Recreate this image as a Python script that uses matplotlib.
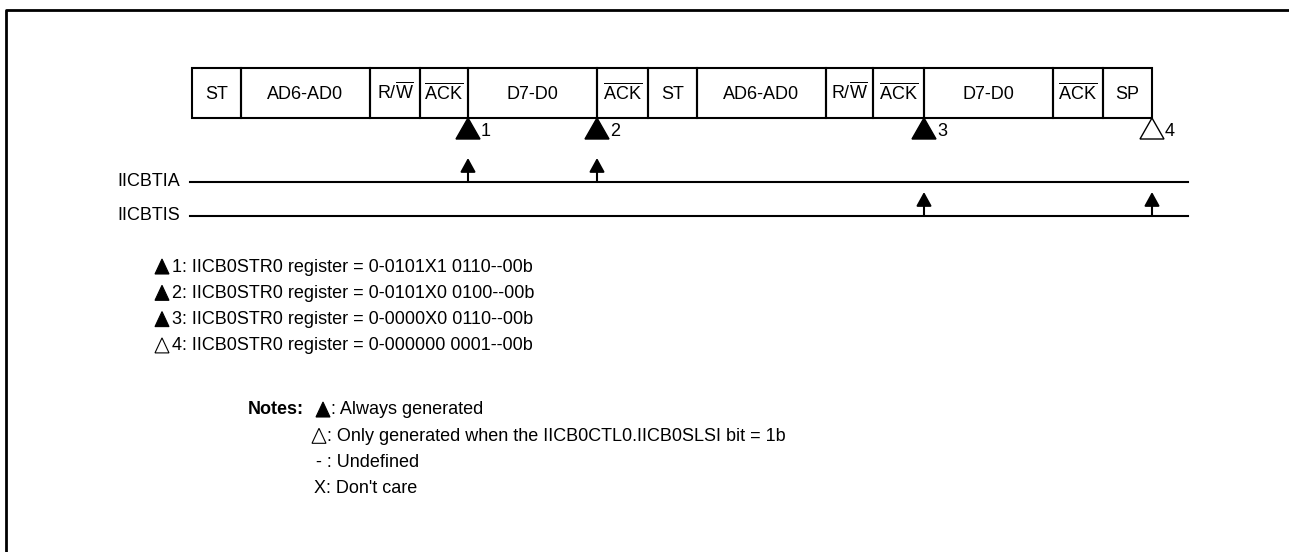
import matplotlib.pyplot as plt
from matplotlib.patches import Rectangle, Polygon

plt.rcParams['font.family'] = ['Liberation Sans', 'DejaVu Sans']
plt.rcParams['mathtext.fontset'] = 'custom'
plt.rcParams['mathtext.rm'] = 'Liberation Sans'
plt.rcParams['mathtext.it'] = 'Liberation Sans:italic'

# frame fields (left to right) and their widths in pixels
fields = ['ST', 'AD6-AD0', r'R/$\overline{\mathrm{W}}$', r'$\overline{\mathrm{ACK}}$', 'D7-D0',
          r'$\overline{\mathrm{ACK}}$', 'ST', 'AD6-AD0', r'R/$\overline{\mathrm{W}}$',
          r'$\overline{\mathrm{ACK}}$', 'D7-D0', r'$\overline{\mathrm{ACK}}$', 'SP']
field_widths = [49, 129, 50, 48, 129, 51, 49, 129, 47, 51, 129, 50, 49]

# interrupt events: field after which they occur, number, always generated?, signal
event_after = [3, 4, 9, 12]
event_nums = ['1', '2', '3', '4']
event_filled = [True, True, True, False]
event_signal = ['IICBTIA', 'IICBTIA', 'IICBTIS', 'IICBTIS']

signals = ['IICBTIA', 'IICBTIS']

reg_values = ['0-0101X1 0110--00b', '0-0101X0 0100--00b',
              '0-0000X0 0110--00b', '0-000000 0001--00b']

notes_marks = ['filled', 'open', '-', 'X']
notes_text = [': Always generated',
              ': Only generated when the IICB0CTL0.IICB0SLSI bit = 1b',
              ' : Undefined',
              ": Don't care"]

FS = 13
LW = 1.5

fig = plt.figure(figsize=(12.89, 5.52), dpi=100)
ax = fig.add_axes([0, 0, 1, 1])
ax.set_xlim(0, 1289)
ax.set_ylim(552, 0)
ax.axis('off')

# outer frame (left and top edges only visible)
ax.plot([6, 6, 1289], [552, 10, 10], color='black', lw=2.0, solid_capstyle='projecting')

# frame boxes
x0 = 192
box_top, box_bot = 68, 118
edges = [x0]
for w in field_widths:
    edges.append(edges[-1] + w)
for i, name in enumerate(fields):
    ax.add_patch(Rectangle((edges[i], box_top), field_widths[i], box_bot - box_top,
                           fill=False, ec='black', lw=LW))
    ax.text(edges[i] + field_widths[i] / 2, 99, name,
            ha='center', va='baseline', fontsize=FS)

# signal lines
sig_y = {'IICBTIA': 182, 'IICBTIS': 216}
for s in signals:
    ax.plot([190, 1188], [sig_y[s], sig_y[s]], color='black', lw=LW)
    ax.text(180, sig_y[s], s, ha='right', va='center', fontsize=FS)


def triangle(x, y_top, w, h, filled, lw=1.0):
    pts = [(x, y_top), (x - w / 2, y_top + h), (x + w / 2, y_top + h)]
    ax.add_patch(Polygon(pts, closed=True, fc='black' if filled else 'white',
                         ec='black', lw=lw, joinstyle='miter'))


# event triangles and arrows
for idx, num, filled, sig in zip(event_after, event_nums, event_filled, event_signal):
    ex = edges[idx + 1]
    triangle(ex, box_bot, 24, 21, filled, lw=1.0)
    ax.text(ex + 13, box_bot + 14, num, ha='left', va='center', fontsize=FS)
    ly = sig_y[sig]
    ax.annotate('', xy=(ex, ly - 24), xytext=(ex, ly),
                arrowprops=dict(arrowstyle='-|>,head_length=0.6,head_width=0.33',
                                mutation_scale=14, lw=LW, color='black',
                                shrinkA=0, shrinkB=0))

# register value legend
for k, (num, filled, val) in enumerate(zip(event_nums, event_filled, reg_values)):
    y = 267 + k * 26.3
    triangle(162, y - 8, 14, 15, filled, lw=0.8)
    ax.text(172, y, f'{num}: IICB0STR0 register = {val}', ha='left', va='center', fontsize=FS)

# notes
ax.text(248, 410, 'Notes:', ha='left', va='center', fontsize=FS, fontweight='bold')
for k, (mark, txt) in enumerate(zip(notes_marks, notes_text)):
    y = 410 + k * 26.3
    if mark == 'filled':
        triangle(323, y - 8, 14, 15, True, lw=0.8)
        ax.text(331, y, txt, ha='left', va='center', fontsize=FS)
    elif mark == 'open':
        triangle(319, y - 8, 14, 15, False, lw=0.8)
        ax.text(327, y, txt, ha='left', va='center', fontsize=FS)
    else:
        ax.text(316 if mark == '-' else 314, y, mark + txt, ha='left', va='center', fontsize=FS)

fig.savefig('out.png', dpi=100)
